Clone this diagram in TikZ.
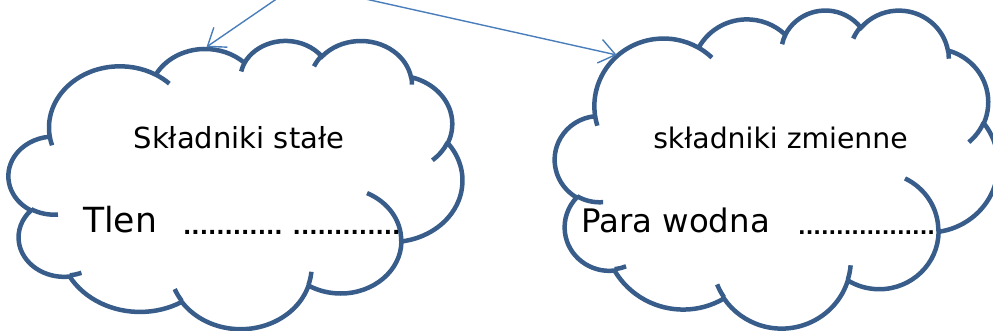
\documentclass[tikz,border=0pt]{standalone}
\usepackage{fontspec}
\setmainfont{DejaVu Sans}
\usetikzlibrary{arrows.meta}
\definecolor{cloudblue}{RGB}{56,93,138}
\definecolor{arrowblue}{RGB}{74,126,187}
% elliptical arc in the OOXML manner: radii, visual start angle, visual sweep
\newcommand\ca[4]{arc[x radius=#1, y radius=#2, start angle={atan2(#1*sin(#3),#2*cos(#3))}, delta angle={mod(atan2(#1*sin((#3)+(#4)),#2*cos((#3)+(#4)))-atan2(#1*sin(#3),#2*cos(#3))+720,360)}]}
\newcommand\cloudpath{%
 (3.900,14.370) \ca{6.753}{9.190}{-190.4875}{123.7805}
 \ca{5.333}{7.267}{-144.1024}{89.9452}
 \ca{4.365}{5.945}{-145.8079}{99.7230}
 \ca{4.857}{6.595}{-130.9861}{117.2417}
 \ca{5.333}{7.273}{-78.7089}{109.0269}
 \ca{6.775}{9.220}{-46.2673}{130.2690}
 \ca{5.785}{7.867}{0.6250}{114.0333}
 \ca{6.752}{9.215}{22.4516}{115.1726}
 \ca{7.720}{10.543}{66.2426}{75.7110}
 \ca{4.360}{5.918}{-274.9421}{146.7356}
 \ca{4.345}{5.945}{-246.8285}{152.5189}
 -- cycle
 (4.693,26.177) \ca{4.345}{5.945}{86.742}{26.4295}
 (6.928,34.899) \ca{4.360}{5.918}{73.6105}{11.4475}
 (16.478,39.090) \ca{6.752}{9.215}{137.6242}{14.0811}
 (28.827,34.751) \ca{6.752}{9.215}{6.4533}{15.9984}
 (34.129,22.954) \ca{5.785}{7.867}{-70.2924}{70.9174}
 (41.798,15.354) \ca{5.333}{7.273}{30.3180}{27.7515}
 (38.324,5.426) \ca{4.857}{6.595}{-13.7443}{14.8589}
 (29.078,3.952) \ca{4.857}{6.595}{-149.1815}{18.1954}
 (22.141,4.720) \ca{4.365}{5.945}{-163.4943}{17.6864}
 (14.000,5.192) \ca{6.753}{9.190}{-66.7070}{12.3194}
 (4.127,15.789) \ca{6.753}{9.190}{157.6544}{11.8582}
}
\tikzset{
  cloud line/.style={draw=cloudblue, line width=4.5pt},
  link/.style={draw=arrowblue, line width=1.4pt, -{Straight Barb[length=16pt,width=24pt,line width=1.4pt]}},
  lbl/.style={inner sep=0pt, text=black},
}
\begin{document}
\begin{tikzpicture}[x=1pt,y=-1pt]
\clip (0,0) rectangle (993,331);
% left cloud
\begin{scope}[shift={(8.7,40)}, x=10.5pt, y=-6.67pt]
  \draw[cloud line] \cloudpath;
\end{scope}
% right cloud
\begin{scope}[shift={(555,9.5)}, x=10.255pt, y=-7.36pt]
  \draw[cloud line] \cloudpath;
\end{scope}
% connectors
\coordinate (srcL) at (288.7,-9.4);
\coordinate (tipL) at (206.5,47);
\coordinate (srcR) at (345.3,-5.5);
\coordinate (tipR) at (616.7,55);
\draw[link] (srcL) -- (tipL);
\draw[link] (srcR) -- (tipR);
% texts
\node[lbl, font=\fontsize{29}{34}\selectfont, anchor=base] (hdrL) at (239,149) {Składniki stałe};
\node[lbl, font=\fontsize{28.3}{34}\selectfont, anchor=base] (hdrR) at (780.5,149) {składniki zmienne};
\node[lbl, font=\fontsize{34.6}{40}\selectfont, anchor=base west] (tlen) at (83,233) {Tlen};
\node[lbl, font=\fontsize{21.8}{26}\bfseries\selectfont, anchor=base west] (dotsL) at (183,234) {............ .............};
\node[lbl, font=\fontsize{32.4}{38}\selectfont, anchor=base west] (para) at (581,233) {Para wodna};
\node[lbl, font=\fontsize{20}{26}\bfseries\selectfont, anchor=base west] (dotsR) at (798,234) {..................};
\end{tikzpicture}
\end{document}
